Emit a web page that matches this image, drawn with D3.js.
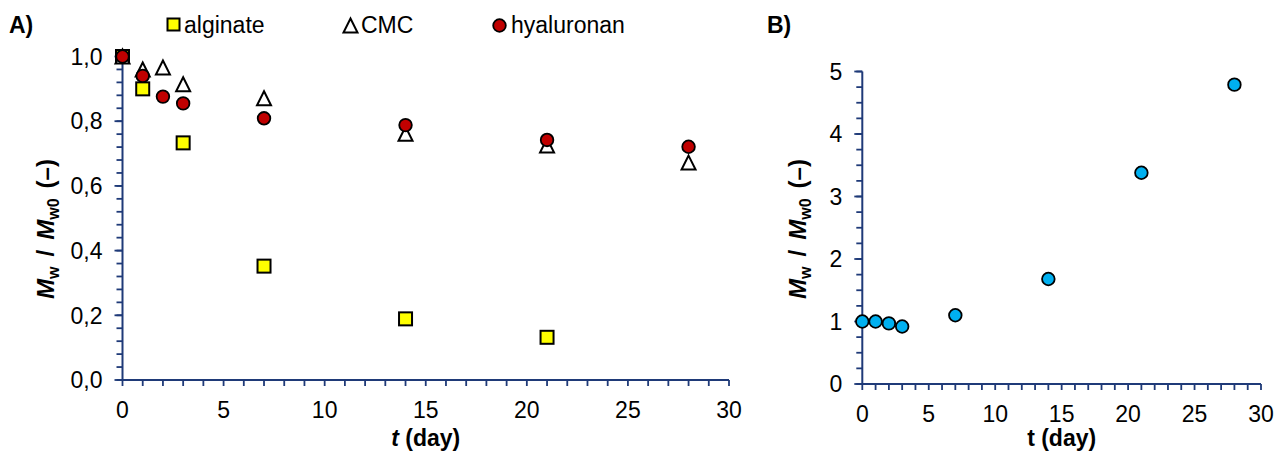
<!DOCTYPE html>
<html>
<head>
<meta charset="utf-8">
<script src="https://cdn.jsdelivr.net/npm/d3@7/dist/d3.min.js"></script>
<style>
    body { margin: 0; background: #fff; }
    svg { font-family: "Liberation Sans", Arial, sans-serif; }
</style>
</head>
<body>
<div id="chart"></div>
<script>
//DATA
let days = [0, 1, 2, 3, 7, 14, 21, 28];
let alginateDays = [0, 1, 3, 7, 14, 21];
let alginate = [1.0, 0.90, 0.733, 0.352, 0.189, 0.132];
let cmc = [1.0, 0.96, 0.966, 0.914, 0.871, 0.761, 0.725, 0.672];
let hyaluronan = [1.0, 0.94, 0.876, 0.855, 0.809, 0.788, 0.742, 0.721];
let ratioB = [1.0, 1.0, 0.97, 0.92, 1.10, 1.68, 3.38, 4.79];

let ticksA = [0, 0.2, 0.4, 0.6, 0.8, 1.0];
let ticksB = [0, 1, 2, 3, 4, 5];
let ticksX = [0, 5, 10, 15, 20, 25, 30];

let axisColor = '#1f3a78';
let fs = 23;

//SVG
let svg = d3.select('#chart').append('svg')
    .attr('width', 1285)
    .attr('height', 457);

//SCALES
let xA = d3.scaleLinear().domain([0, 30]).range([122.5, 729]);
let yA = d3.scaleLinear().domain([0, 1]).range([380, 56.5]);
let xB = d3.scaleLinear().domain([0, 30]).range([862.3, 1261]);
let yB = d3.scaleLinear().domain([0, 5]).range([384, 71.5]);

function drawAxes(x, y, yTicks, yMinorStep, fmt) {
    let g = svg.append('g');
    let y0 = y.range()[0];
    let x0 = x.range()[0];

    //minor ticks x
    g.selectAll('.mx').data(d3.range(0, 31, 1)).enter().append('line')
        .attr('x1', d => x(d)).attr('x2', d => x(d))
        .attr('y1', y0).attr('y2', y0 + 6)
        .attr('stroke', axisColor).attr('stroke-width', 1.8);

    //minor ticks y
    let top = y.domain()[1];
    let steps = Math.round(top / yMinorStep);
    g.selectAll('.my').data(d3.range(0, steps + 1).map(i => i * yMinorStep)).enter().append('line')
        .attr('x1', x0 - 6).attr('x2', x0)
        .attr('y1', d => y(d)).attr('y2', d => y(d))
        .attr('stroke', axisColor).attr('stroke-width', 1.8);

    //major ticks y
    g.selectAll('.My').data(yTicks).enter().append('line')
        .attr('x1', x0 - 8).attr('x2', x0)
        .attr('y1', d => y(d)).attr('y2', d => y(d))
        .attr('stroke', axisColor).attr('stroke-width', 1.8);

    //axis lines
    g.append('line')
        .attr('x1', x0).attr('x2', x.range()[1])
        .attr('y1', y0).attr('y2', y0)
        .attr('stroke', axisColor).attr('stroke-width', 2);
    g.append('line')
        .attr('x1', x0).attr('x2', x0)
        .attr('y1', y0).attr('y2', y.range()[1])
        .attr('stroke', axisColor).attr('stroke-width', 2);

    //labels
    g.selectAll('.lx').data(ticksX).enter().append('text')
        .attr('x', d => x(d)).attr('y', y0 + 38)
        .attr('text-anchor', 'middle')
        .attr('font-size', fs)
        .text(d => d);
    g.selectAll('.ly').data(yTicks).enter().append('text')
        .attr('x', x0 - 20).attr('y', d => y(d))
        .attr('dy', '0.36em')
        .attr('text-anchor', 'end')
        .attr('font-size', fs)
        .text(fmt);
}

drawAxes(xA, yA, ticksA, 0.04, d => d3.format('.1f')(d).replace('.', ','));
drawAxes(xB, yB, ticksB, 0.25, d => d);

//AXIS TITLES
function yTitle(cx, cy) {
    let t = svg.append('text')
        .attr('transform', 'translate(' + cx + ',' + cy + ') rotate(-90)')
        .attr('text-anchor', 'middle')
        .attr('font-size', 24)
        .attr('font-weight', 'bold');
    t.append('tspan').attr('font-style', 'italic').text('M');
    t.append('tspan').attr('font-size', 16).attr('dy', 5).text('w');
    t.append('tspan').attr('dy', -5).attr('dx', 10).text('/');
    t.append('tspan').attr('dx', 10).attr('font-style', 'italic').text('M');
    t.append('tspan').attr('font-size', 16).attr('dy', 5).text('w0');
    t.append('tspan').attr('dy', -5).attr('dx', 10).text('(–)');
}
yTitle(54, 229);
yTitle(806, 229);

let tA = svg.append('text')
    .attr('x', xA(15)).attr('y', 446)
    .attr('text-anchor', 'middle')
    .attr('font-size', fs).attr('font-weight', 'bold');
tA.append('tspan').attr('font-style', 'italic').text('t');
tA.append('tspan').text(' (day)');

svg.append('text')
    .attr('x', xB(15)).attr('y', 446)
    .attr('text-anchor', 'middle')
    .attr('font-size', fs).attr('font-weight', 'bold')
    .text('t (day)');

//PANEL LABELS
svg.append('text').attr('x', 9).attr('y', 33)
    .attr('font-size', fs).attr('font-weight', 'bold').text('A)');
svg.append('text').attr('x', 767).attr('y', 33)
    .attr('font-size', fs).attr('font-weight', 'bold').text('B)');

//MARKERS
function triPath(cx, cy) {
    let w = 14, h = 14;
    return 'M' + cx + ',' + (cy - h / 2) + 'L' + (cx + w / 2) + ',' + (cy + h / 2) + 'L' + (cx - w / 2) + ',' + (cy + h / 2) + 'Z';
}

svg.append('g').selectAll('rect').data(alginate).enter().append('rect')
    .attr('x', (d, i) => xA(alginateDays[i]) - 6.5)
    .attr('y', d => yA(d) - 6.5)
    .attr('width', 13).attr('height', 13)
    .attr('fill', '#ffff00').attr('stroke', '#000').attr('stroke-width', 2);

svg.append('g').selectAll('path').data(cmc).enter().append('path')
    .attr('d', (d, i) => triPath(xA(days[i]), yA(d)))
    .attr('fill', '#fff').attr('stroke', '#000').attr('stroke-width', 2)
    .attr('stroke-linejoin', 'miter');

svg.append('g').selectAll('circle').data(hyaluronan).enter().append('circle')
    .attr('cx', (d, i) => xA(days[i]))
    .attr('cy', d => yA(d))
    .attr('r', 6.3)
    .attr('fill', '#c00000').attr('stroke', '#000').attr('stroke-width', 1.8);

svg.append('g').selectAll('circle').data(ratioB).enter().append('circle')
    .attr('cx', (d, i) => xB(days[i]))
    .attr('cy', d => yB(d))
    .attr('r', 6.3)
    .attr('fill', '#00b0f0').attr('stroke', '#000').attr('stroke-width', 1.8);

//LEGEND
let legend = svg.append('g');
legend.append('rect').attr('x', 167.5).attr('y', 18.5).attr('width', 12).attr('height', 12)
    .attr('fill', '#ffff00').attr('stroke', '#000').attr('stroke-width', 2);
legend.append('text').attr('x', 184).attr('y', 33).attr('font-size', fs).text('alginate');
legend.append('path').attr('d', triPath(350.5, 25.5))
    .attr('fill', '#fff').attr('stroke', '#000').attr('stroke-width', 2);
legend.append('text').attr('x', 361).attr('y', 33).attr('font-size', fs).text('CMC');
legend.append('circle').attr('cx', 499.5).attr('cy', 25.5).attr('r', 6.3)
    .attr('fill', '#c00000').attr('stroke', '#000').attr('stroke-width', 1.8);
legend.append('text').attr('x', 511).attr('y', 33).attr('font-size', fs).text('hyaluronan');
</script>
</body>
</html>
